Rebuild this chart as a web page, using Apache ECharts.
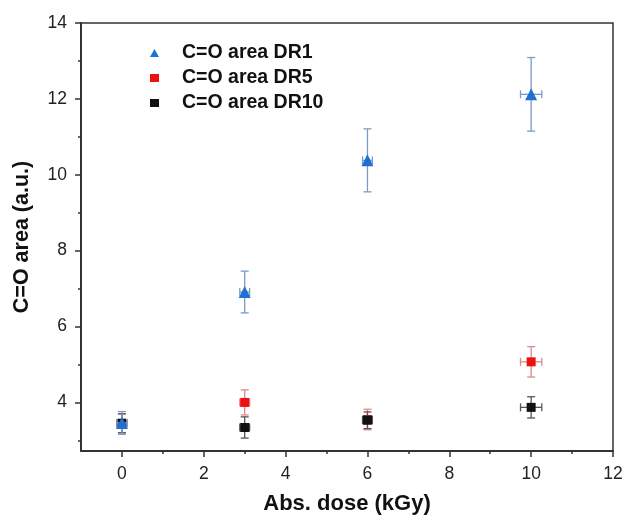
<!DOCTYPE html>
<html>
<head>
<meta charset="utf-8">
<script src="https://cdn.jsdelivr.net/npm/echarts@6/dist/echarts.min.js"></script>
<style>
  html, body { margin: 0; padding: 0; background: #fff; }
  #main { width: 624px; height: 516px; }
</style>
</head>
<body>
<div id="main"></div>
<script>
// dose points (kGy) and horizontal error
const doses = [0, 3, 6, 10];
const doseErr = [0.12, 0.12, 0.12, 0.26];

// C=O area per dose rate, with vertical error
const dr1 = [3.46, 6.91, 10.38, 12.12];
const dr1Err = [0.30, 0.55, 0.83, 0.97];
const dr5 = [3.45, 4.00, 3.55, 5.07];
const dr5Err = [0.25, 0.33, 0.27, 0.40];
const dr10 = [3.45, 3.34, 3.53, 3.87];
const dr10Err = [0.25, 0.28, 0.22, 0.28];

const xMajor = [0, 2, 4, 6, 8, 10, 12];
const xMinor = [1, 3, 5, 7, 9, 11];
const yMajor = [4, 6, 8, 10, 12, 14];
const yMinor = [3, 5, 7, 9, 11, 13];

const font = 'Liberation Sans, Arial, sans-serif';

function points(ys) {
    return doses.map((d, i) => [d, ys[i]]);
}
function errRows(ys, errs) {
    return doses.map((d, i) => [d, ys[i], doseErr[i], errs[i]]);
}

// error bars drawn through the axes' own coord()
function errorBars(name, ys, errs, color, z) {
    return {
        name: name + ' err',
        type: 'custom',
        z: z,
        silent: true,
        data: errRows(ys, errs),
        renderItem: function (params, api) {
            const x = api.value(0), y = api.value(1);
            const ex = api.value(2), ey = api.value(3);
            const top = api.coord([x, y + ey]);
            const bot = api.coord([x, y - ey]);
            const lft = api.coord([x - ex, y]);
            const rgt = api.coord([x + ex, y]);
            const cap = 4;
            const style = {stroke: color, lineWidth: 1.3};
            return {
                type: 'group',
                children: [
                    {type: 'line', shape: {x1: top[0], y1: top[1], x2: bot[0], y2: bot[1]}, style: style},
                    {type: 'line', shape: {x1: top[0] - cap, y1: top[1], x2: top[0] + cap, y2: top[1]}, style: style},
                    {type: 'line', shape: {x1: bot[0] - cap, y1: bot[1], x2: bot[0] + cap, y2: bot[1]}, style: style},
                    {type: 'line', shape: {x1: lft[0], y1: lft[1], x2: rgt[0], y2: rgt[1]}, style: style},
                    {type: 'line', shape: {x1: lft[0], y1: lft[1] - cap, x2: lft[0], y2: lft[1] + cap}, style: style},
                    {type: 'line', shape: {x1: rgt[0], y1: rgt[1] - cap, x2: rgt[0], y2: rgt[1] + cap}, style: style}
                ]
            };
        }
    };
}

const chart = echarts.init(document.getElementById('main'));
chart.setOption({
    animation: false,
    backgroundColor: '#fff',
    textStyle: {fontFamily: font},
    grid: {
        left: 81, right: 11, top: 23, bottom: 65,
        outerBoundsMode: 'none',
        show: true, borderColor: '#333', borderWidth: 1.5
    },
    legend: {
        left: 145, top: 38, orient: 'vertical',
        itemWidth: 9, itemHeight: 8, itemGap: 5,
        data: [
            {name: 'C=O area DR1', icon: 'triangle'},
            {name: 'C=O area DR5', icon: 'rect'},
            {name: 'C=O area DR10', icon: 'rect'}
        ],
        textStyle: {fontSize: 19.5, lineHeight: 20, fontWeight: 'bold', color: '#111', fontFamily: font, padding: [0, 0, 0, 18]}
    },
    xAxis: [
        {
            type: 'value', min: -1, max: 12,
            name: 'Abs. dose (kGy)', nameLocation: 'middle', nameGap: 42,
            nameTextStyle: {fontSize: 22, fontWeight: 'bold', color: '#111', fontFamily: font},
            axisLine: {show: true, onZero: false, lineStyle: {color: '#333', width: 2}},
            axisTick: {show: true, customValues: xMajor, length: 6, lineStyle: {color: '#333', width: 1.5}},
            axisLabel: {customValues: xMajor, margin: 14, fontSize: 17.5, color: '#222', fontFamily: font},
            splitLine: {show: false}
        },
        {
            type: 'value', min: -1, max: 12, position: 'bottom',
            axisLine: {show: false, onZero: false},
            axisTick: {show: true, customValues: xMinor, length: 3, lineStyle: {color: '#333', width: 1.5}},
            axisLabel: {show: false},
            splitLine: {show: false}
        }
    ],
    yAxis: [
        {
            type: 'value', min: 2.72, max: 14,
            name: 'C=O area (a.u.)', nameLocation: 'middle', nameGap: 48,
            nameTextStyle: {fontSize: 21.5, fontWeight: 'bold', color: '#111', fontFamily: font},
            axisLine: {show: true, onZero: false, lineStyle: {color: '#333', width: 2}},
            axisTick: {show: true, customValues: yMajor, length: 6, lineStyle: {color: '#333', width: 1.5}},
            axisLabel: {customValues: yMajor, margin: 14, fontSize: 17.5, color: '#222', fontFamily: font},
            splitLine: {show: false}
        },
        {
            type: 'value', min: 2.72, max: 14, position: 'left',
            axisLine: {show: false, onZero: false},
            axisTick: {show: true, customValues: yMinor, length: 3, lineStyle: {color: '#333', width: 1.5}},
            axisLabel: {show: false},
            splitLine: {show: false}
        }
    ],
    series: [
        errorBars('C=O area DR5', dr5, dr5Err, '#d98a90', 2),
        {
            name: 'C=O area DR5', type: 'scatter', z: 3,
            symbol: 'rect', symbolSize: 9,
            itemStyle: {color: '#ee1111', opacity: 1},
            data: points(dr5)
        },
        errorBars('C=O area DR10', dr10, dr10Err, '#555', 4),
        {
            name: 'C=O area DR10', type: 'scatter', z: 5,
            symbol: 'rect', symbolSize: 9,
            itemStyle: {color: '#111', opacity: 1},
            data: points(dr10)
        },
        errorBars('C=O area DR1', dr1, dr1Err, '#7a9cc8', 6),
        {
            name: 'C=O area DR1', type: 'scatter', z: 7,
            symbol: 'triangle', symbolSize: 12,
            itemStyle: {color: '#1f6fd6', opacity: 1},
            data: points(dr1)
        }
    ]
});
</script>
</body>
</html>
